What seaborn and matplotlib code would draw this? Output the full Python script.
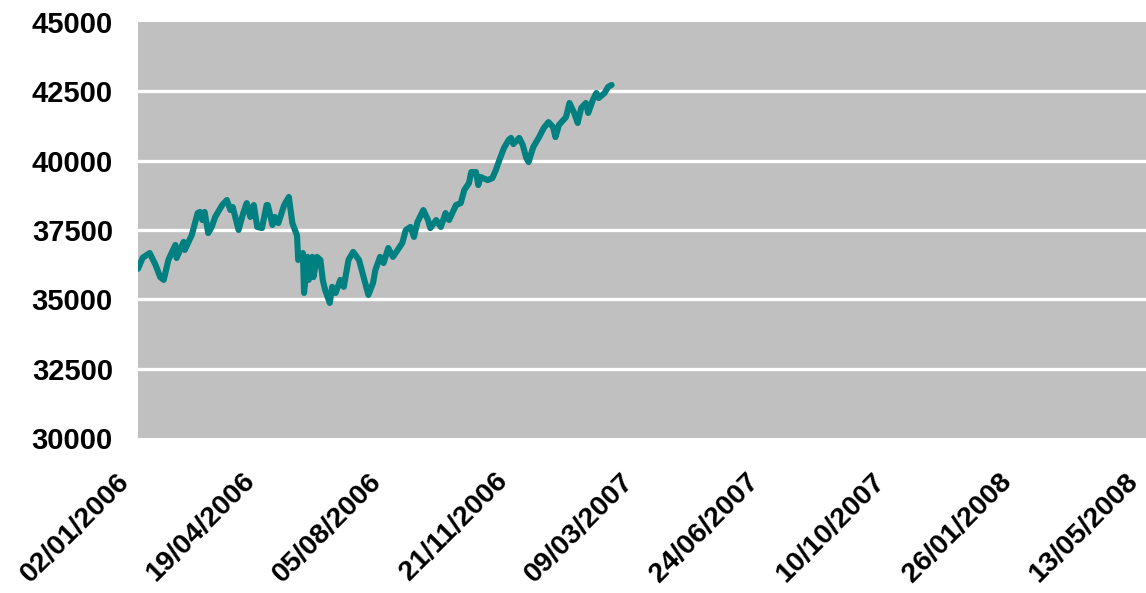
import pandas as pd
import numpy as np
import matplotlib
matplotlib.use('Agg')
import matplotlib.pyplot as plt
import matplotlib.transforms as mtransforms
import seaborn as sns

dates = [
    '2006-01-02', '2006-01-06', '2006-01-12', '2006-01-17', '2006-01-21', '2006-01-24',
    '2006-01-28', '2006-01-31', '2006-02-03', '2006-02-04', '2006-02-10', '2006-02-11',
    '2006-02-17', '2006-02-22', '2006-02-24', '2006-02-26', '2006-02-28', '2006-03-03',
    '2006-03-06', '2006-03-09', '2006-03-15', '2006-03-19', '2006-03-22', '2006-03-24',
    '2006-03-29', '2006-04-02', '2006-04-05', '2006-04-08', '2006-04-11', '2006-04-14',
    '2006-04-18', '2006-04-22', '2006-04-23', '2006-04-27', '2006-04-29', '2006-05-02',
    '2006-05-07', '2006-05-11', '2006-05-14', '2006-05-18', '2006-05-19', '2006-05-23',
    '2006-05-24', '2006-05-27', '2006-05-28', '2006-05-31', '2006-06-01', '2006-06-04',
    '2006-06-07', '2006-06-09', '2006-06-11', '2006-06-15', '2006-06-17', '2006-06-20',
    '2006-06-24', '2006-06-27', '2006-07-01', '2006-07-05', '2006-07-10', '2006-07-13',
    '2006-07-18', '2006-07-22', '2006-07-24', '2006-07-28', '2006-07-31', '2006-08-04',
    '2006-08-08', '2006-08-12', '2006-08-16', '2006-08-19', '2006-08-23', '2006-08-26',
    '2006-08-29', '2006-09-03', '2006-09-07', '2006-09-09', '2006-09-14', '2006-09-18',
    '2006-09-22', '2006-09-25', '2006-10-01', '2006-10-05', '2006-10-08', '2006-10-12',
    '2006-10-14', '2006-10-18', '2006-10-20', '2006-10-22', '2006-10-28', '2006-11-01',
    '2006-11-04', '2006-11-07', '2006-11-11', '2006-11-15', '2006-11-17', '2006-11-19',
    '2006-11-24', '2006-11-27', '2006-11-30', '2006-12-02', '2006-12-06', '2006-12-11',
    '2006-12-15', '2006-12-19', '2006-12-23', '2006-12-25', '2006-12-28', '2007-01-03',
    '2007-01-06', '2007-01-10', '2007-01-13', '2007-01-16', '2007-01-20', '2007-01-22',
    '2007-01-26', '2007-01-29', '2007-01-31', '2007-02-05', '2007-02-08', '2007-02-11',
]
values = [
    36100, 36500, 36670, 36240, 35800, 35700,
    36420, 36700, 36960, 36490, 37070, 36780,
    37320, 38110, 38150, 37860, 38150, 37390,
    37610, 37970, 38400, 38580, 38220, 38330,
    37500, 38110, 38470, 37970, 38400, 37610,
    37570, 38400, 38400, 37680, 37970, 37750,
    38400, 38690, 37750, 37300, 36420, 36670,
    35230, 36530, 35700, 36530, 35800, 36530,
    36420, 35700, 35340, 34870, 35450, 35230,
    35700, 35450, 36420, 36710, 36420, 35950,
    35160, 35590, 36060, 36530, 36310, 36850,
    36530, 36780, 37030, 37500, 37610, 37250,
    37790, 38220, 37860, 37570, 37860, 37610,
    38110, 37860, 38400, 38470, 38940, 39190,
    39590, 39590, 39120, 39410, 39300, 39370,
    39660, 40020, 40460, 40750, 40820, 40600,
    40820, 40570, 40100, 39950, 40490, 40850,
    41180, 41390, 41210, 40850, 41290, 41570,
    42080, 41720, 41360, 41900, 42080, 41720,
    42190, 42440, 42260, 42440, 42660, 42730,
]
tick_dates = ['2006-01-02', '2006-04-19', '2006-08-05', '2006-11-21', '2007-03-09',
              '2007-06-24', '2007-10-10', '2008-01-26', '2008-05-13']
y_ticks = [30000, 32500, 35000, 37500, 40000, 42500, 45000]

df = pd.DataFrame({'date': pd.to_datetime(dates), 'value': values})

sns.set_style('white')
plt.rcParams['font.family'] = ['Liberation Sans', 'DejaVu Sans']
plt.rcParams['text.color'] = 'black'
plt.rcParams['xtick.color'] = 'black'
plt.rcParams['ytick.color'] = 'black'

fig = plt.figure(figsize=(11.46, 5.93), dpi=100)
ax = fig.add_axes([138 / 1146, 1 - 438 / 593, 1 - 138 / 1146, (438 - 22) / 593])
ax.set_facecolor('#c0c0c0')

sns.lineplot(data=df, x='date', y='value', ax=ax, color='#008080', linewidth=4.4, zorder=3)

ax.set_xlim(pd.Timestamp(tick_dates[0]), pd.Timestamp(tick_dates[-1]))
ax.set_ylim(y_ticks[0], y_ticks[-1])
ax.set_yticks(y_ticks)
ax.set_yticklabels([str(v) for v in y_ticks], fontsize=21, fontweight='bold', color='black')
ax.set_xticks(pd.to_datetime(tick_dates))
ax.set_xticklabels([pd.Timestamp(d).strftime('%d/%m/%Y') for d in tick_dates],
                   rotation=45, ha='right', va='baseline', rotation_mode='anchor',
                   fontsize=20.5, fontweight='bold', color='black')
ax.tick_params(axis='y', length=0, pad=18)
ax.tick_params(axis='x', length=0, pad=32)

# nudge the slanted date labels a bit to the left of their tick
shift = mtransforms.ScaledTranslation(-7 / 100, 0, fig.dpi_scale_trans)
for lbl in ax.get_xticklabels():
    lbl.set_transform(lbl.get_transform() + shift)

for v in y_ticks[1:-1]:
    ax.axhline(v, color='white', linewidth=2.4, zorder=1)

for s in ax.spines.values():
    s.set_visible(False)
ax.set_xlabel('')
ax.set_ylabel('')
ax.grid(False)

fig.savefig('out.png', dpi=100)
